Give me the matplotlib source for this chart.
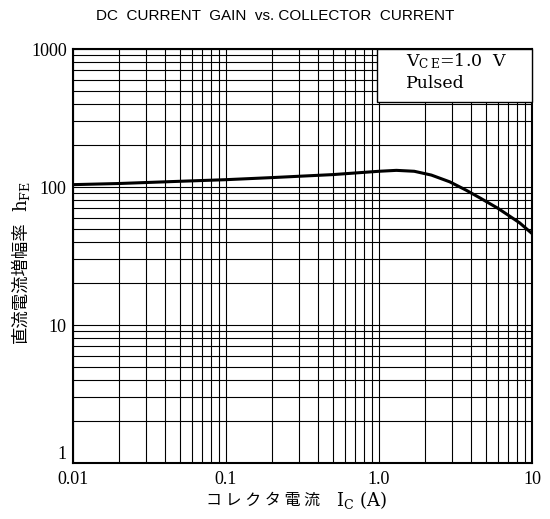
import matplotlib
matplotlib.use("Agg")
import matplotlib.pyplot as plt
from matplotlib.ticker import LogLocator, NullFormatter, FixedLocator, FixedFormatter

# Datos
ic = [0.01, 0.02, 0.05, 0.1, 0.2, 0.5, 1.0, 1.3, 1.7, 2.2, 2.9, 3.7, 4.6, 6.0, 8.3, 10.0]
hfe = [104, 106, 110, 113, 117, 123, 130, 132, 130, 122, 109, 95, 83, 70, 55, 46]

xticks = [0.01, 0.1, 1.0, 10]
xlabels = ["0.01", "0.1", "1.0", "10"]
yticks = [1, 10, 100, 1000]
ylabels = ["1", "10", "100", "1000"]

serif = "Liberation Serif"
jp = ["Noto Sans CJK JP", serif]

plt.rcParams["mathtext.fontset"] = "custom"
plt.rcParams["mathtext.rm"] = "DejaVu Serif"
plt.rcParams["mathtext.it"] = "DejaVu Serif:italic"

fig = plt.figure(figsize=(5.5, 5.19), dpi=100)
ax = fig.add_axes([73/550, 1-463/519, 459/550, 414/519])

ax.set_xscale("log")
ax.set_yscale("log")
ax.set_xlim(0.01, 10)
ax.set_ylim(1, 1000)

ax.xaxis.set_minor_locator(LogLocator(base=10, subs=range(2, 10)))
ax.yaxis.set_minor_locator(LogLocator(base=10, subs=range(2, 10)))
ax.xaxis.set_minor_formatter(NullFormatter())
ax.yaxis.set_minor_formatter(NullFormatter())
ax.xaxis.set_major_locator(FixedLocator(xticks))
ax.xaxis.set_major_formatter(FixedFormatter(xlabels))
ax.yaxis.set_major_locator(FixedLocator(yticks))
ax.yaxis.set_major_formatter(FixedFormatter(ylabels))

ax.grid(True, which="both", color="black", linewidth=0.8)
ax.tick_params(which="both", length=0, labelsize=13)
ax.tick_params(axis="x", pad=6)
ax.tick_params(axis="y", pad=4.5)
for lb in ax.get_xticklabels() + ax.get_yticklabels():
    lb.set_fontfamily(serif)
ax.get_yticklabels()[0].set_va("bottom")
for s in ax.spines.values():
    s.set_linewidth(1.5)

ax.plot(ic, hfe, color="black", linewidth=2.2)

# Cuadro de condiciones
box = plt.Rectangle((377/550, 1-102/519), 155/550, 53/519, transform=fig.transFigure,
                    facecolor="white", edgecolor="black", linewidth=1.0, zorder=5)
fig.patches.append(box)
fig.text(406/550, 1-66/519, r"V$_{\mathrm{C\,E}}$=1.0  V", fontfamily="DejaVu Serif",
         fontsize=12.5, va="baseline", zorder=6)
fig.text(406/550, 1-88/519, "Pulsed", fontfamily="DejaVu Serif", fontsize=12.5,
         va="baseline", zorder=6)

fig.text(275/550, 1-16/519, "DC  CURRENT  GAIN  vs. COLLECTOR  CURRENT",
         fontfamily="Liberation Sans", fontsize=11, ha="center", va="center")

# Etiqueta eje x: parte japonesa + simbolo en serif
fig.text(320/550, 1-500/519, "コ レ ク タ 電 流", fontfamily=jp,
         fontsize=11.5, ha="right", va="center")
fig.text(336/550, 1-500/519, r"I$_{\mathrm{C}}$ (A)", fontfamily="DejaVu Serif",
         fontsize=13, ha="left", va="center")
# Etiqueta eje y
fig.text(21/550, 1-343/519, "直流電流増幅率", fontfamily=jp,
         fontsize=12.5, ha="center", va="bottom", rotation=90)
fig.text(21/550, 1-212/519, r"h$_{\mathrm{FE}}$", fontfamily="DejaVu Serif",
         fontsize=13, ha="center", va="bottom", rotation=90)

fig.savefig("out.png", dpi=100)
